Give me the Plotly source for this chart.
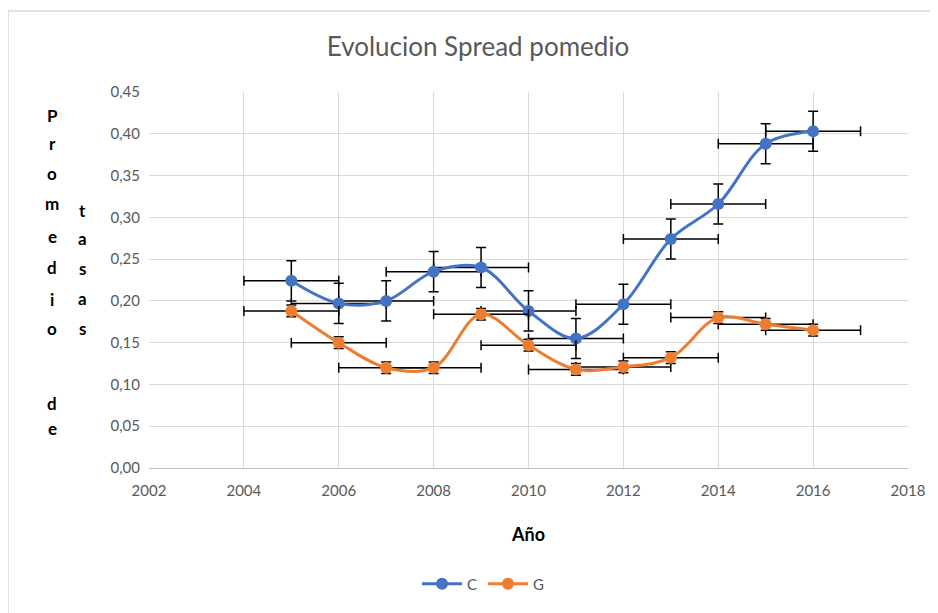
import plotly.graph_objects as go

years = [2005, 2006, 2007, 2008, 2009, 2010, 2011, 2012, 2013, 2014, 2015, 2016]
c_vals = [0.224, 0.197, 0.200, 0.235, 0.240, 0.188, 0.155, 0.196, 0.274, 0.316, 0.388, 0.403]
g_vals = [0.188, 0.150, 0.120, 0.120, 0.184, 0.147, 0.118, 0.121, 0.132, 0.180, 0.172, 0.165]
c_yerr = 0.024
g_yerr = 0.007
x_err = 1
x_ticks = [2002, 2004, 2006, 2008, 2010, 2012, 2014, 2016, 2018]
y_ticks = [0.00, 0.05, 0.10, 0.15, 0.20, 0.25, 0.30, 0.35, 0.40, 0.45]
y_title_col1 = ["P", "r", "o", "m", "e", "d", "i", "o", "d", "e"]
y_title_col1_pos = [115, 143, 173, 203, 236, 267, 299, 328, 403, 428]
y_title_col2 = ["t", "a", "s", "a", "s"]
y_title_col2_pos = [210, 238, 268, 298, 328]

FONT = "Lato"
OFF = 8  # page body margin
W, H = 938, 613
L = 149 - OFF
T = 92 - OFF
R = W - (908 - OFF)
B = H - (468 - OFF)
pw = W - L - R
ph = H - T - B


def px_x(x):
    return (x - OFF - L) / pw


def px_y(y):
    return (H - B - (y - OFF)) / ph


fig = go.Figure()
for name, vals, yerr, color in [("C", c_vals, c_yerr, "#4472C4"), ("G", g_vals, g_yerr, "#ED7D31")]:
    fig.add_trace(go.Scatter(
        x=years, y=vals, name=name, mode="lines+markers",
        line=dict(color=color, width=3, shape="spline", smoothing=1),
        marker=dict(color=color, size=12),
        error_x=dict(type="constant", value=x_err, color="black", thickness=1.5, width=5),
        error_y=dict(type="constant", value=yerr, color="black", thickness=1.5, width=5),
    ))

annotations = []
for col, pos, xp in [(y_title_col1, y_title_col1_pos, 52), (y_title_col2, y_title_col2_pos, 82)]:
    for letter, py in zip(col, pos):
        annotations.append(dict(text=letter, x=px_x(xp), y=px_y(py), xref="paper", yref="paper",
                                showarrow=False, font=dict(family=FONT, size=17, color="black", weight="bold"),
                                xanchor="center", yanchor="middle"))

annotations.append(dict(text="<b>Año</b>", x=px_x(528), y=px_y(534), xref="paper", yref="paper",
                        showarrow=False, font=dict(family=FONT, size=18, color="black"),
                        xanchor="center", yanchor="middle"))

fig.update_layout(
    width=W, height=H,
    margin=dict(l=L, r=R, t=T, b=B),
    paper_bgcolor="white", plot_bgcolor="white",
    font=dict(family=FONT, color="#595959", size=14),
    title=dict(text="Evolucion Spread pomedio", x=(478 - OFF) / W, xanchor="center",
               y=1 - (47 - OFF) / H, yanchor="middle",
               font=dict(family=FONT, size=26, color="#595959")),
    xaxis=dict(range=[2002, 2018], tickvals=x_ticks, ticktext=[str(v) for v in x_ticks],
               showgrid=True, gridcolor="#d9d9d9", gridwidth=1, zeroline=False,
               showline=True, linecolor="#bfbfbf", linewidth=1, ticks="", ticklabelstandoff=9,
               tickfont=dict(size=15, color="#595959")),
    yaxis=dict(range=[0, 0.45], tickvals=y_ticks, ticktext=[f"{v:.2f}".replace(".", ",") for v in y_ticks],
               showgrid=True, gridcolor="#d9d9d9", gridwidth=1, zeroline=False,
               showline=False, ticks="", ticklabelstandoff=8,
               tickfont=dict(size=15, color="#595959")),
    legend=dict(orientation="h", x=px_x(483), xanchor="center",
                y=px_y(584), yanchor="middle", font=dict(size=15, color="#595959"),
                itemwidth=40, entrywidth=11, entrywidthmode="pixels"),
    annotations=annotations,
    shapes=[dict(type="rect", xref="paper", yref="paper",
                 x0=px_x(8), x1=px_x(1100), y0=px_y(700), y1=px_y(11),
                 line=dict(color="#d9d9d9", width=1.5), fillcolor="rgba(0,0,0,0)", layer="below")],
)

fig.write_html("out.html")
